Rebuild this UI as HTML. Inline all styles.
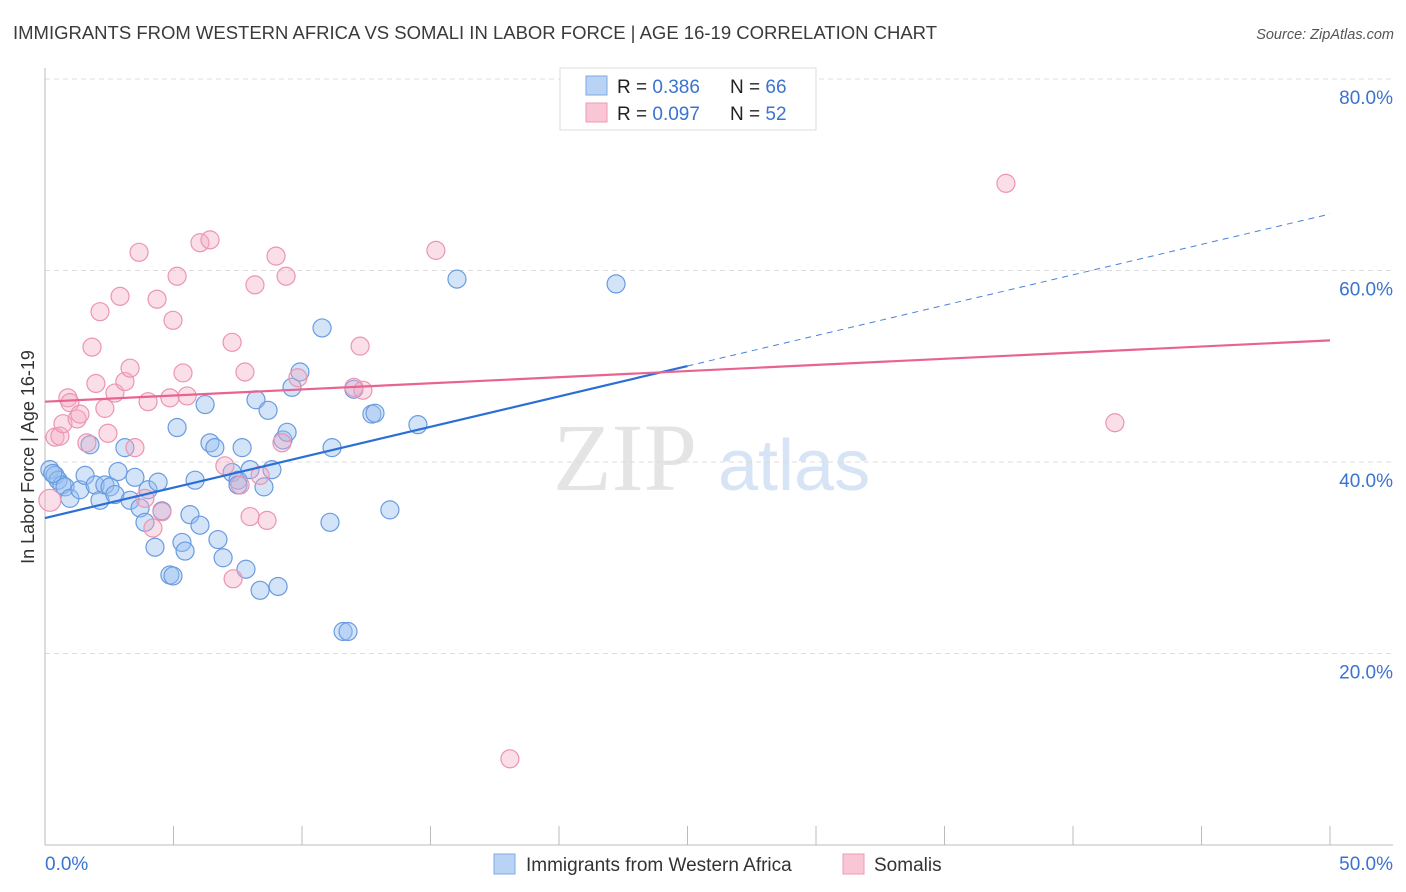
<!DOCTYPE html>
<html><head><meta charset="utf-8"><style>
body{margin:0;background:#fff;font-family:"Liberation Sans",sans-serif;}
svg{display:block}
</style></head><body>
<svg id="chart" width="1406" height="892">
<text x="13" y="39" font-size="18" fill="#3a3a3a" textLength="924" lengthAdjust="spacingAndGlyphs">IMMIGRANTS FROM WESTERN AFRICA VS SOMALI IN LABOR FORCE | AGE 16-19 CORRELATION CHART</text>
<text x="1394" y="39" font-size="14.5" font-style="italic" fill="#555" text-anchor="end">Source: ZipAtlas.com</text>
<g><text x="553" y="490" font-size="96" font-family="Liberation Serif,serif" fill="#e4e4e4">ZIP</text><text x="718" y="490" font-size="72" fill="#d6e4f5">atlas</text></g>
<g id="grid"></g><g id="axes"></g><g id="pts"></g><g id="lines"></g>
<g>
<rect x="560" y="68" width="256" height="62" fill="#fff" stroke="#ddd"/>
<rect x="586" y="76" width="21" height="19" fill="#b9d3f5" stroke="#7ea9e4"/>
<rect x="586" y="103" width="21" height="19" fill="#f9c6d5" stroke="#ee9ab5"/>
<text x="617" y="93" font-size="19" fill="#222">R = <tspan fill="#3a73d0">0.386</tspan></text>
<text x="730" y="93" font-size="19" fill="#222">N = <tspan fill="#3a73d0">66</tspan></text>
<text x="617" y="120" font-size="19" fill="#222">R = <tspan fill="#3a73d0">0.097</tspan></text>
<text x="730" y="120" font-size="19" fill="#222">N = <tspan fill="#3a73d0">52</tspan></text>
</g>
<g>
<rect x="494" y="854" width="21" height="20" fill="#b9d3f5" stroke="#7ea9e4"/>
<text x="526" y="871" font-size="19" fill="#333">Immigrants from Western Africa</text>
<rect x="843" y="854" width="21" height="20" fill="#f9c6d5" stroke="#ee9ab5"/>
<text x="874" y="871" font-size="19" fill="#333">Somalis</text>
</g>
<text transform="translate(34,457) rotate(-90)" font-size="18" fill="#333" text-anchor="middle">In Labor Force | Age 16-19</text>
</svg>
<script>
const yTicks=[20,40,60,80];
const yTickLabels=["20.0%","40.0%","60.0%","80.0%"];
const xTickLabels=["0.0%","50.0%"];
const blueX=[0.19,0.39,0.51,0.66,0.78,0.97,1.36,1.56,1.75,1.95,2.14,2.33,2.53,2.72,2.84,3.11,3.31,3.50,3.70,3.89,4.01,4.28,4.40,4.55,4.86,4.98,5.14,5.33,5.45,5.64,5.84,6.03,6.23,6.42,6.61,6.73,6.93,7.28,7.51,7.67,7.82,7.98,8.21,8.37,8.68,8.83,9.07,9.26,9.42,9.61,9.92,10.78,11.09,11.17,11.60,11.79,12.02,12.72,12.84,13.42,14.51,16.03,22.22,7.51,8.52,0.30];
const blueY=[39.2,38.6,38.1,37.6,37.4,36.2,37.1,38.6,41.8,37.6,36.0,37.6,37.4,36.6,39.0,41.5,36.0,38.4,35.2,33.7,37.1,31.1,37.9,34.9,28.2,28.1,43.6,31.6,30.7,34.5,38.1,33.4,46.0,42.0,41.5,31.9,30.0,38.9,38.1,41.5,28.8,39.2,46.5,26.6,45.4,39.2,27.0,42.3,43.1,47.8,49.4,54.0,33.7,41.5,22.3,22.3,47.6,45.0,45.1,35.0,43.9,59.1,58.6,37.6,37.4,38.8];
const pinkX=[0.19,0.39,0.58,0.70,0.89,0.97,1.25,1.36,1.63,1.83,1.98,2.14,2.33,2.45,2.72,2.92,3.11,3.31,3.50,3.66,3.89,4.01,4.20,4.36,4.55,4.98,4.86,5.14,5.37,5.53,6.03,6.42,7.00,7.28,7.32,7.59,7.78,7.98,8.17,8.37,8.64,8.99,9.22,9.38,9.84,12.02,12.26,12.37,15.21,18.09,37.39,41.63];
const pinkY=[36.0,42.6,42.7,44.0,46.7,46.2,44.5,45.0,42.0,52.0,48.2,55.7,45.6,43.0,47.2,57.3,48.4,49.8,41.5,61.9,36.2,46.3,33.1,57.0,34.8,54.8,46.7,59.4,49.3,46.9,62.9,63.2,39.6,52.5,27.8,37.6,49.4,34.3,58.5,38.6,33.9,61.5,42.0,59.4,48.8,47.8,52.1,47.5,62.1,9.0,69.1,44.1];
const blueTrend=[34.15,65.9];
const pinkTrend=[46.3,52.7];
const blueSolidEnd=25;
const NS="http://www.w3.org/2000/svg";
const X=v=>45+v/50*1285, Y=v=>845-v/80*766;
function mk(t,a,p){const e=document.createElementNS(NS,t);for(const k in a)e.setAttribute(k,a[k]);p.appendChild(e);return e;}
const grid=document.getElementById('grid'),axes=document.getElementById('axes'),pts=document.getElementById('pts'),lines=document.getElementById('lines');
yTicks.forEach((v,i)=>{
 const l=mk('line',{x1:45,x2:1393,y1:Y(v),y2:Y(v),stroke:'#dcdcdc','stroke-dasharray':'5,4'},grid);
 
 
 const t=mk('text',{x:1393,y:Y(v)+25,'font-size':19,fill:'#3a73d0','text-anchor':'end'},axes);
 t.textContent=yTickLabels[i];
 
 
});
let a=mk('line',{x1:45,x2:45,y1:68,y2:845,stroke:'#bbb'},axes);


a=mk('line',{x1:45,x2:1393,y1:845,y2:845,stroke:'#bbb'},axes);


for(let i=0;i<=10;i++){const tk=mk('line',{x1:X(i*5),x2:X(i*5),y1:826,y2:845,stroke:'#bbb'},axes);
 
 }
let t=mk('text',{x:45,y:870,'font-size':19,fill:'#3a73d0'},axes);t.textContent=xTickLabels[0];


t=mk('text',{x:1393,y:870,'font-size':19,fill:'#3a73d0','text-anchor':'end'},axes);t.textContent=xTickLabels[1];


blueX.forEach((v,i)=>{const c=mk('circle',{cx:X(v),cy:Y(blueY[i]),r:9,fill:'rgba(150,190,240,0.42)',stroke:'#6a9be0','stroke-width':1.2},pts);
 
 });
pinkX.forEach((v,i)=>{const c=mk('circle',{cx:X(v),cy:Y(pinkY[i]),r:i==0?11:9,fill:'rgba(245,170,195,0.38)',stroke:'#ec94b1','stroke-width':1.2},pts);
 
 });
const by=x=>blueTrend[0]+(blueTrend[1]-blueTrend[0])*x/50;
let l=mk('line',{x1:X(0),y1:Y(by(0)),x2:X(blueSolidEnd),y2:Y(by(blueSolidEnd)),stroke:'#2a6fd6','stroke-width':2.2},lines);


l=mk('line',{x1:X(blueSolidEnd),y1:Y(by(blueSolidEnd)),x2:X(50),y2:Y(by(50)),stroke:'#4a82d8','stroke-width':1,'stroke-dasharray':'6,5'},lines);


l=mk('line',{x1:X(0),y1:Y(pinkTrend[0]),x2:X(50),y2:Y(pinkTrend[1]),stroke:'#e8648f','stroke-width':2.2},lines);


</script>
</body></html>
